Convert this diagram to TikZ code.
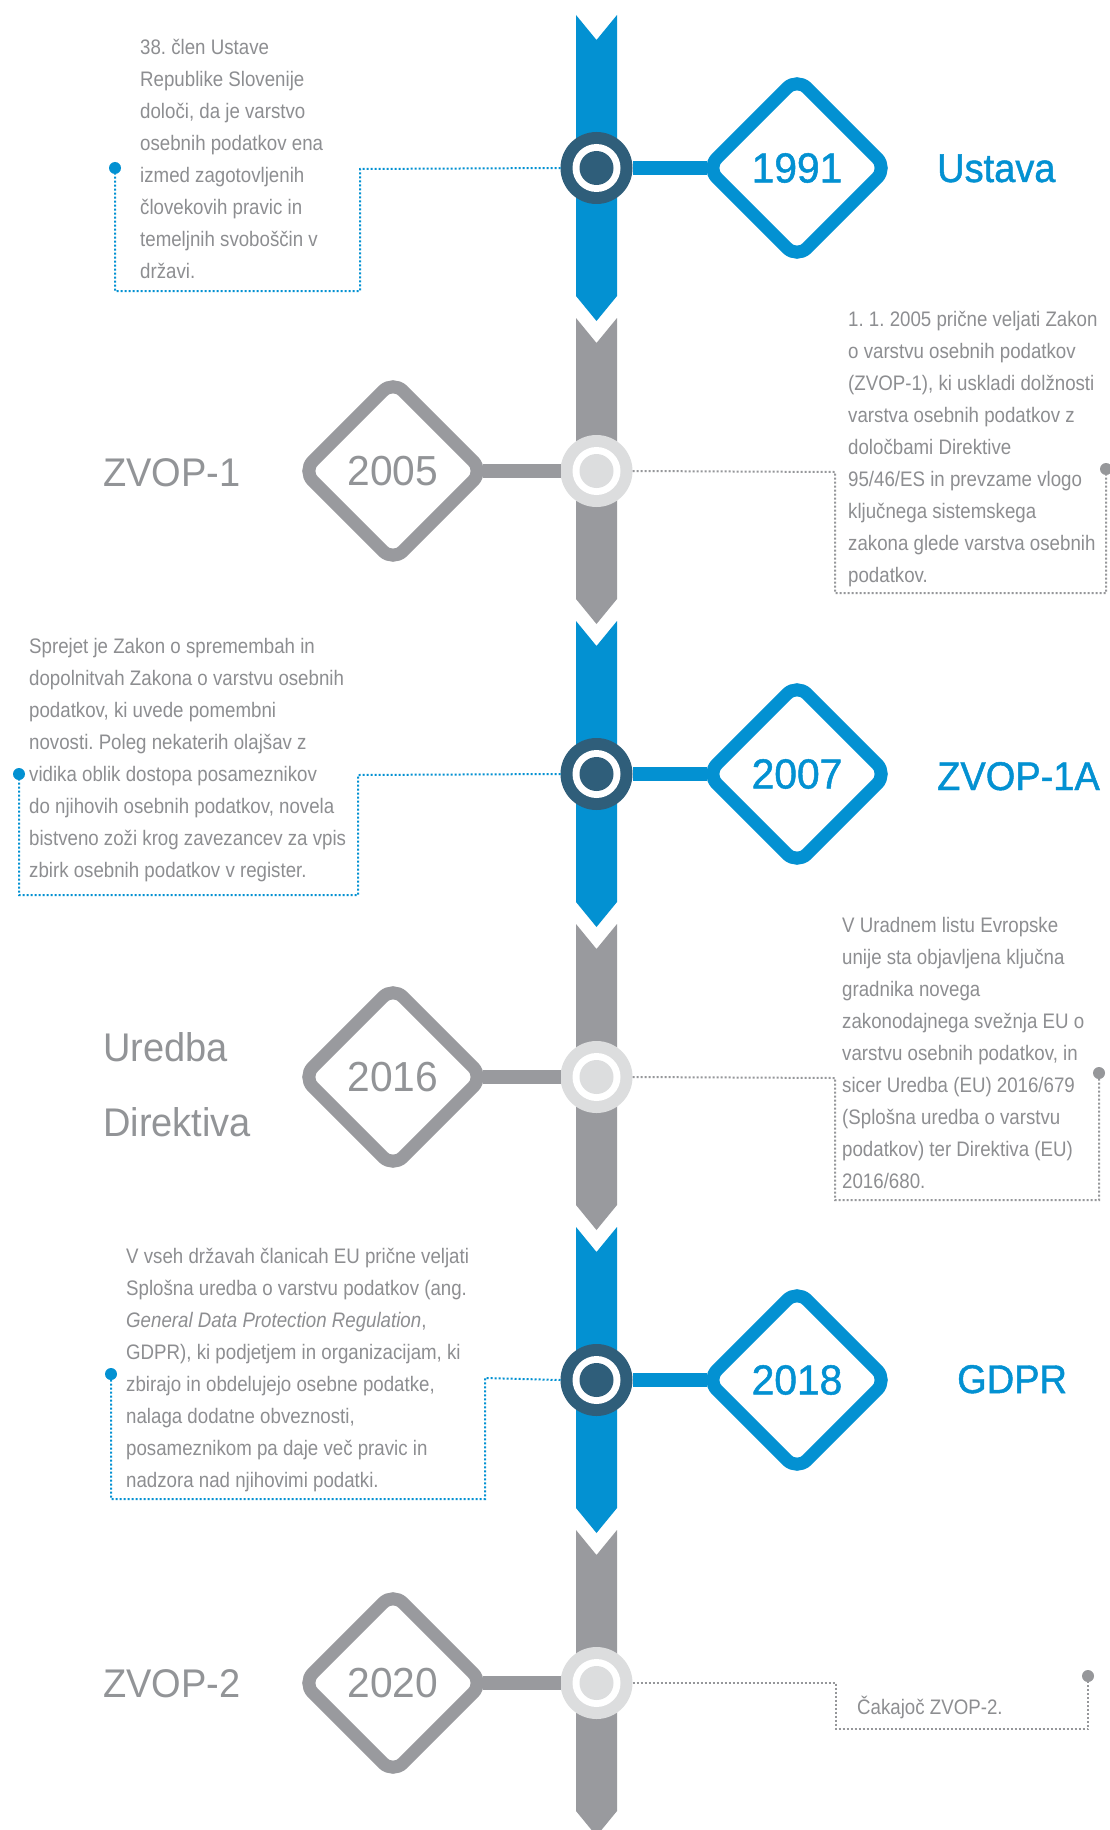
\documentclass[tikz,border=0pt]{standalone}
\usepackage{fontspec}
\setmainfont{Liberation Sans}
\newfontfamily\bodyfont[FakeStretch=0.89]{Liberation Sans}
\newfontfamily\titlefont[FakeStretch=0.95]{Liberation Sans}
\newfontfamily\titlefontb[FakeStretch=0.95,FakeBold=1.2]{Liberation Sans}
\newfontfamily\yearfont[FakeStretch=0.97]{Liberation Sans}
\newfontfamily\yearfontb[FakeStretch=0.97,FakeBold=1.2]{Liberation Sans}
\usetikzlibrary{shapes.geometric}
\definecolor{tlblue}{RGB}{3,145,210}
\definecolor{tlnavy}{RGB}{47,94,122}
\definecolor{tlgray}{RGB}{153,154,158}
\definecolor{tllight}{RGB}{220,221,222}
\definecolor{tltext}{RGB}{141,142,145}
\definecolor{tltitle}{RGB}{146,148,151}
\definecolor{tldotgray}{RGB}{150,151,154}
\newcommand\tlrow[1]{\hbox{#1}}
\frenchspacing
\tikzset{
  evdark/.style={circle, fill=tlnavy, minimum size=72pt, inner sep=0pt, outer sep=0pt},
  evlight/.style={circle, fill=tllight, minimum size=72pt, inner sep=0pt, outer sep=0pt},
  yearbase/.style={diamond, draw, line width=13pt, rounded corners=14pt, minimum size=180pt, inner sep=0pt, outer sep=0pt, fill=white},
  yearblue/.style={yearbase, draw=tlblue, text=tlblue, font=\yearfontb\fontsize{42}{42}\selectfont},
  yeargray/.style={yearbase, draw=tlgray, text=tltitle, font=\yearfont\fontsize{42}{42}\selectfont},
  titleblue/.style={anchor=base west, inner sep=0pt, text=tlblue, font=\titlefontb\fontsize{40}{40}\selectfont},
  titlegray/.style={anchor=base west, inner sep=0pt, text=tltitle, font=\titlefont\fontsize{40}{75}\selectfont},
  bodytext/.style={anchor=base west, inner sep=0pt, text=tltext, font=\bodyfont\fontsize{21}{32}\selectfont\frenchspacing},
  barblue/.style={draw=tlblue, line width=14pt},
  bargray/.style={draw=tlgray, line width=14pt},
  bluedots/.style={draw=tlblue, line width=2pt, dash pattern=on 2pt off 2pt},
  graydots/.style={draw=tldotgray, line width=2pt, dash pattern=on 2pt off 2pt},
  enddotblue/.style={circle, fill=tlblue, minimum size=12pt, inner sep=0pt, outer sep=0pt},
  enddotgray/.style={circle, fill=tldotgray, minimum size=12pt, inner sep=0pt, outer sep=0pt},
}
\begin{document}
\begin{tikzpicture}[x=1pt, y=-1pt]
\useasboundingbox (0,0) rectangle (1110,1830);
\fill[white] (0,0) rectangle (1110,1830);
\begin{scope}
\clip (0,0) rectangle (1110,1830);
% spine segments
\foreach \c/\col in {168/tlblue,471/tlgray,774/tlblue,1077/tlgray,1380/tlblue,1683/tlgray}{
  \fill[\col] (576,\c-153) -- (596.5,\c-128) -- (617,\c-153) -- (617,\c+128) -- (596.5,\c+153) -- (576,\c+128) -- cycle;
}
\end{scope}

% event circles
\node[evdark]  (c1) at (596.5,168) {};
\node[evlight] (c2) at (596.5,471) {};
\node[evdark]  (c3) at (596.5,774) {};
\node[evlight] (c4) at (596.5,1077) {};
\node[evdark]  (c5) at (596.5,1380) {};
\node[evlight] (c6) at (596.5,1683) {};
\foreach \n/\col in {c1/tlnavy,c2/tllight,c3/tlnavy,c4/tllight,c5/tlnavy,c6/tllight}{
  \fill[white] (\n.center) circle (24pt);
  \fill[\col] (\n.center) circle (17pt);
}

% year diamonds
\node[yearblue] (d1) at (797,168) {1991};
\node[yeargray] (d2) at (393,471) {2005};
\node[yearblue] (d3) at (797,774) {2007};
\node[yeargray] (d4) at (393,1077) {2016};
\node[yearblue] (d5) at (797,1380) {2018};
\node[yeargray] (d6) at (393,1683) {2020};

% bars
\draw[barblue] (c1.east) -- (d1.west);
\draw[bargray] (c2.west) -- (d2.east);
\draw[barblue] (c3.east) -- (d3.west);
\draw[bargray] (c4.west) -- (d4.east);
\draw[barblue] (c5.east) -- (d5.west);
\draw[bargray] (c6.west) -- (d6.east);

% titles
\node[titleblue] (h1) at (937,182) {Ustava};
\node[titlegray] (h2) at (103,486) {ZVOP-1};
\node[titleblue] (h3) at (937,790) {ZVOP-1A};
\node[titlegray] (h4) at (103,1061) {\vtop{\tlrow{Uredba}\tlrow{Direktiva}}};
\node[titleblue] (h5) at (957,1393) {GDPR};
\node[titlegray] (h6) at (103,1697) {ZVOP-2};

% body texts
\node[bodytext] (t1) at (140,55) {\vtop{\tlrow{38. člen Ustave}\tlrow{Republike Slovenije}\tlrow{določi, da je varstvo}\tlrow{osebnih podatkov ena}\tlrow{izmed zagotovljenih}\tlrow{človekovih pravic in}\tlrow{temeljnih svoboščin v}\tlrow{državi.}}};
\node[bodytext] (t2) at (848,326) {\vtop{\tlrow{1. 1. 2005 prične veljati Zakon}\tlrow{o varstvu osebnih podatkov}\tlrow{(ZVOP-1), ki uskladi dolžnosti}\tlrow{varstva osebnih podatkov z}\tlrow{določbami Direktive}\tlrow{95/46/ES in prevzame vlogo}\tlrow{ključnega sistemskega}\tlrow{zakona glede varstva osebnih}\tlrow{podatkov.}}};
\node[bodytext] (t3) at (29,653) {\vtop{\tlrow{Sprejet je Zakon o spremembah in}\tlrow{dopolnitvah Zakona o varstvu osebnih}\tlrow{podatkov, ki uvede pomembni}\tlrow{novosti. Poleg nekaterih olajšav z}\tlrow{vidika oblik dostopa posameznikov}\tlrow{do njihovih osebnih podatkov, novela}\tlrow{bistveno zoži krog zavezancev za vpis}\tlrow{zbirk osebnih podatkov v register.}}};
\node[bodytext] (t4) at (842,932) {\vtop{\tlrow{V Uradnem listu Evropske}\tlrow{unije sta objavljena ključna}\tlrow{gradnika novega}\tlrow{zakonodajnega svežnja EU o}\tlrow{varstvu osebnih podatkov, in}\tlrow{sicer Uredba (EU) 2016/679}\tlrow{(Splošna uredba o varstvu}\tlrow{podatkov) ter Direktiva (EU)}\tlrow{2016/680.}}};
\node[bodytext] (t5) at (126,1263) {\vtop{\tlrow{V vseh državah članicah EU prične veljati}\tlrow{Splošna uredba o varstvu podatkov (ang.}\tlrow{\itshape General Data Protection Regulation\upshape,}\tlrow{GDPR), ki podjetjem in organizacijam, ki}\tlrow{zbirajo in obdelujejo osebne podatke,}\tlrow{nalaga dodatne obveznosti,}\tlrow{posameznikom pa daje več pravic in}\tlrow{nadzora nad njihovimi podatki.}}};
\node[bodytext] (t6) at (857,1714) {Čakajoč ZVOP-2.};

% end dots
\node[enddotblue] (p1) at (115,168) {};
\node[enddotgray] (p2) at (1106,469) {};
\node[enddotblue] (p3) at (19,774) {};
\node[enddotgray] (p4) at (1099,1073) {};
\node[enddotblue] (p5) at (111,1374) {};
\node[enddotgray] (p6) at (1088,1676) {};

% bend points
\coordinate (k1a) at (360,169); \coordinate (k1b) at (360,291);
\coordinate (k2a) at (835,472); \coordinate (k2b) at (835,593);
\coordinate (k3a) at (358,775); \coordinate (k3b) at (358,895);
\coordinate (k4a) at (835,1078); \coordinate (k4b) at (835,1200);
\coordinate (k5a) at (485,1378); \coordinate (k5b) at (485,1499);
\coordinate (k6a) at (836,1683); \coordinate (k6b) at (836,1729);

% dotted connectors
\draw[bluedots] (c1.west) -- (k1a) -- (k1b) -| (p1);
\draw[graydots] (c2.east) -- (k2a) -- (k2b) -| (p2);
\draw[bluedots] (c3.west) -- (k3a) -- (k3b) -| (p3);
\draw[graydots] (c4.east) -- (k4a) -- (k4b) -| (p4);
\draw[bluedots] (c5.west) -- (k5a) -- (k5b) -| (p5);
\draw[graydots] (c6.east) -- (k6a) -- (k6b) -| (p6);
\end{tikzpicture}
\end{document}
